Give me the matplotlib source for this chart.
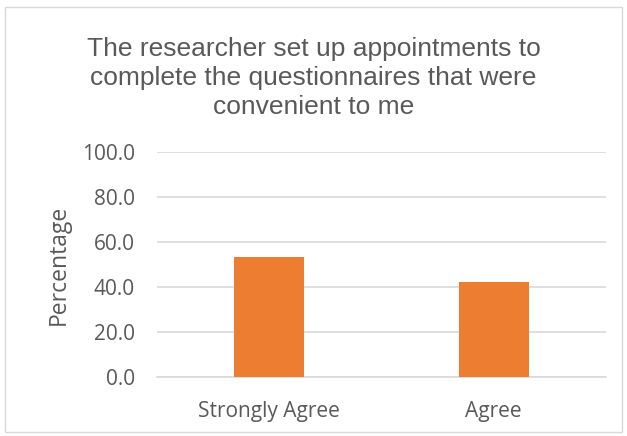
import matplotlib

matplotlib.use("Agg")
import matplotlib.pyplot as plt
from matplotlib.patches import Rectangle

# Survey responses (percent of respondents)
categories = ["Strongly Agree", "Agree"]
percentages = [53.3, 42.2]
yticks = [0, 20, 40, 60, 80, 100]

TITLE = "The researcher set up appointments to\ncomplete the questionnaires that were\nconvenient to me"
BAR_COLOR = "#ED7D31"
TEXT_COLOR = "#595959"
GRID_COLOR = "#D9D9D9"

fig = plt.figure(figsize=(6.27, 4.36), dpi=100)
ax = fig.add_axes([0.2504, 0.1353, 0.7161, 0.5161])

x = range(len(categories))
ax.bar(x, percentages, width=0.3125, color=BAR_COLOR, zorder=3)
ax.set_xlim(-0.5, len(categories) - 0.5)
ax.set_ylim(0, 100)
ax.set_yticks(yticks)
ax.set_yticklabels([f"{v:.1f}" for v in yticks], fontsize=15, color=TEXT_COLOR, family="Open Sans")
ax.set_xticks(list(x))
ax.set_xticklabels(categories, fontsize=15, color=TEXT_COLOR, family="Open Sans")
ax.tick_params(axis="y", length=0, pad=16)
ax.tick_params(axis="x", length=0, pad=17)
ax.grid(axis="y", color=GRID_COLOR, linewidth=1.2, zorder=0)
ax.spines[["top", "right", "left"]].set_visible(False)
ax.spines["bottom"].set_color(GRID_COLOR)
ax.spines["bottom"].set_linewidth(1.2)
ax.set_ylabel("Percentage", fontsize=16.5, color=TEXT_COLOR, family="Open Sans", labelpad=8)

fig.text(0.5, 0.821, TITLE, ha="center", va="center", fontsize=19,
         color=TEXT_COLOR, family="Liberation Sans", linespacing=1.25)

# light chart border like the spreadsheet export
fig.patches.append(Rectangle((5 / 627, 4 / 436), 617 / 627, 425 / 436, transform=fig.transFigure,
                             fill=False, edgecolor=GRID_COLOR, linewidth=1))

fig.savefig("out.png", dpi=100)
